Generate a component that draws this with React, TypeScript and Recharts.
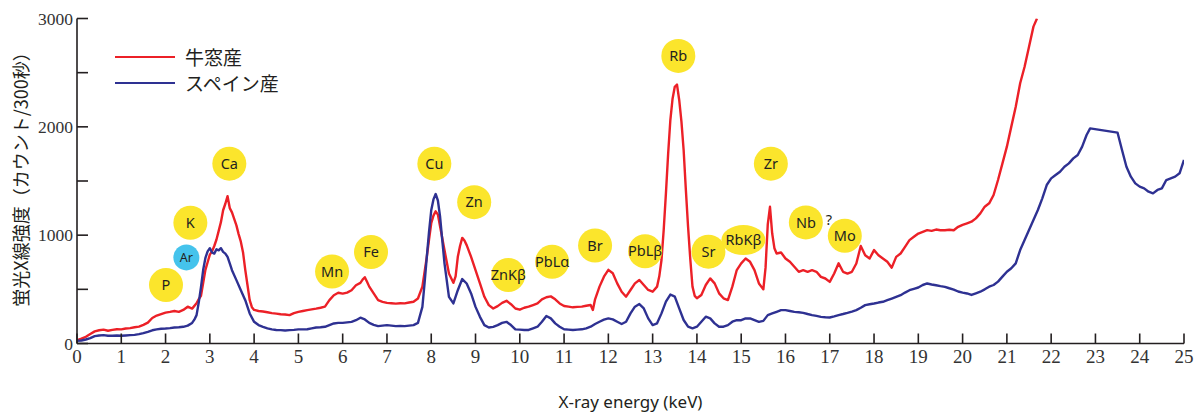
import React from "react";
import {
    LineChart,
    Line,
    XAxis,
    YAxis,
    ReferenceDot,
    Label,
    Legend,
} from "recharts";

// 牛窓産 (red) — energy in keV and counts per 300 s
const ushimadoKeV = [
    0.0, 0.1, 0.2, 0.3, 0.4, 0.5, 0.6, 0.7, 0.8, 0.9,
    1.0, 1.1, 1.2, 1.3, 1.4, 1.5, 1.6, 1.7, 1.8, 1.9,
    2.0, 2.1, 2.2, 2.3, 2.4, 2.5, 2.6, 2.7, 2.75, 2.8, 2.85, 2.9, 2.95,
    3.0, 3.05, 3.1, 3.15, 3.2, 3.25, 3.3, 3.35, 3.4, 3.45, 3.5, 3.55, 3.6, 3.65, 3.7, 3.75, 3.8, 3.85, 3.9, 3.95,
    4.0, 4.1, 4.2, 4.3, 4.4, 4.5, 4.6, 4.7, 4.8, 4.9,
    5.0, 5.1, 5.2, 5.3, 5.4, 5.5, 5.6, 5.7, 5.8, 5.9,
    6.0, 6.1, 6.2, 6.3, 6.4, 6.45, 6.5, 6.55, 6.6, 6.7, 6.8, 6.9,
    7.0, 7.1, 7.2, 7.3, 7.4, 7.5, 7.6, 7.7, 7.8, 7.9, 7.95,
    8.0, 8.05, 8.1, 8.15, 8.2, 8.3, 8.4, 8.5, 8.55, 8.6, 8.65, 8.7, 8.75, 8.8, 8.9,
    9.0, 9.1, 9.2, 9.3, 9.4, 9.5, 9.6, 9.7, 9.8, 9.9,
    10.0, 10.1, 10.2, 10.3, 10.4, 10.5, 10.6, 10.7, 10.8, 10.9,
    11.0, 11.1, 11.2, 11.3, 11.4, 11.5, 11.6, 11.65, 11.7, 11.8, 11.9,
    12.0, 12.1, 12.2, 12.3, 12.4, 12.5, 12.6, 12.7, 12.8, 12.9,
    13.0, 13.1, 13.15, 13.2, 13.25, 13.3, 13.35, 13.4, 13.45, 13.5, 13.55, 13.6, 13.65, 13.7, 13.75, 13.8, 13.85, 13.9, 13.95,
    14.0, 14.1, 14.2, 14.3, 14.4, 14.5, 14.6, 14.7, 14.8, 14.9,
    15.0, 15.1, 15.2, 15.3, 15.4, 15.5, 15.55, 15.6, 15.65, 15.7, 15.75, 15.8, 15.9,
    16.0, 16.1, 16.2, 16.3, 16.4, 16.5, 16.6, 16.7, 16.8, 16.9,
    17.0, 17.1, 17.2, 17.3, 17.4, 17.5, 17.6, 17.7, 17.8, 17.9,
    18.0, 18.1, 18.2, 18.3, 18.4, 18.5, 18.6, 18.7, 18.8, 18.9,
    19.0, 19.1, 19.2, 19.3, 19.4, 19.5, 19.6, 19.7, 19.8, 19.9,
    20.0, 20.1, 20.2, 20.3, 20.4, 20.5, 20.6, 20.7, 20.8, 20.9,
    21.0, 21.1, 21.2, 21.3, 21.4, 21.5, 21.6, 21.68,
];
const ushimadoCounts = [
    30, 45, 62, 88, 112, 122, 128, 118, 126, 132,
    130, 138, 142, 150, 156, 172, 192, 235, 258, 272,
    285, 292, 300, 292, 310, 340, 322, 372, 410, 440, 560, 680, 750,
    820, 850, 900, 960, 1040, 1120, 1230, 1290, 1360, 1250, 1210, 1150, 1090, 1010, 940, 840, 680, 540, 400, 335,
    310, 300, 295, 288, 280, 276, 270, 268, 262, 280,
    292, 300, 308, 315, 322, 330, 340, 400, 446, 468,
    460, 470, 492, 538, 560, 590, 612, 570, 525, 462, 400, 385,
    375, 372, 368, 372, 370, 378, 385, 415, 525, 800, 960,
    1110, 1180, 1220, 1190, 1080, 860, 646, 560, 620, 800, 900, 975, 950, 908, 800,
    677, 554, 431, 354, 323, 345, 375, 394, 363, 323,
    312, 330, 340, 355, 370, 408, 427, 435, 408, 370,
    346, 340, 334, 338, 340, 348, 355, 310, 408, 525, 617,
    680, 648, 555, 478, 432, 494, 555, 586, 540, 494,
    478, 525, 620, 771, 1050, 1386, 1750, 2063, 2260, 2370, 2390, 2248, 2050, 1786, 1420, 1078, 780, 525, 440,
    417, 448, 540, 601, 555, 463, 417, 401, 525, 678,
    740, 785, 754, 677, 554, 500, 700, 1100, 1262, 1015, 880, 831, 840,
    785, 754, 708, 662, 677, 662, 677, 662, 615, 600,
    569, 646, 740, 662, 646, 662, 738, 900, 815, 785,
    862, 815, 785, 754, 700, 800, 831, 892, 954, 985,
    1015, 1031, 1046, 1040, 1052, 1045, 1046, 1050, 1046, 1077,
    1095, 1109, 1124, 1155, 1201, 1263, 1294, 1371, 1509, 1663,
    1817, 2002, 2186, 2402, 2555, 2740, 2925, 3000,
];

// スペイン産 (blue)
const spainKeV = [
    0.0, 0.1, 0.2, 0.3, 0.4, 0.5, 0.6, 0.7, 0.8, 0.9,
    1.0, 1.1, 1.2, 1.3, 1.4, 1.5, 1.6, 1.7, 1.8, 1.9,
    2.0, 2.1, 2.2, 2.3, 2.4, 2.5, 2.6, 2.65, 2.7, 2.75, 2.8, 2.85, 2.9, 2.95,
    3.0, 3.05, 3.1, 3.15, 3.2, 3.25, 3.3, 3.35, 3.4, 3.45, 3.5, 3.6, 3.7, 3.8, 3.9,
    4.0, 4.1, 4.2, 4.3, 4.4, 4.5, 4.6, 4.7, 4.8, 4.9,
    5.0, 5.1, 5.2, 5.3, 5.4, 5.5, 5.6, 5.7, 5.8, 5.9,
    6.0, 6.1, 6.2, 6.3, 6.4, 6.5, 6.6, 6.7, 6.8, 6.9,
    7.0, 7.1, 7.2, 7.3, 7.4, 7.5, 7.6, 7.7, 7.8, 7.85, 7.9, 7.95,
    8.0, 8.05, 8.1, 8.15, 8.2, 8.25, 8.3, 8.4, 8.5, 8.6, 8.7, 8.8, 8.9,
    9.0, 9.1, 9.2, 9.3, 9.4, 9.5, 9.6, 9.7, 9.8, 9.9,
    10.0, 10.1, 10.2, 10.3, 10.4, 10.5, 10.6, 10.7, 10.8, 10.9,
    11.0, 11.1, 11.2, 11.3, 11.4, 11.5, 11.6, 11.7, 11.8, 11.9,
    12.0, 12.1, 12.2, 12.3, 12.4, 12.5, 12.6, 12.7, 12.8, 12.9,
    13.0, 13.1, 13.2, 13.3, 13.4, 13.5, 13.6, 13.7, 13.8, 13.9,
    14.0, 14.1, 14.2, 14.3, 14.4, 14.5, 14.6, 14.7, 14.8, 14.9,
    15.0, 15.1, 15.2, 15.3, 15.4, 15.5, 15.6, 15.7, 15.8, 15.9,
    16.0, 16.1, 16.2, 16.3, 16.4, 16.5, 16.6, 16.7, 16.8, 16.9,
    17.0, 17.1, 17.2, 17.3, 17.4, 17.5, 17.6, 17.7, 17.8, 17.9,
    18.0, 18.1, 18.2, 18.3, 18.4, 18.5, 18.6, 18.7, 18.8, 18.9,
    19.0, 19.1, 19.2, 19.3, 19.4, 19.5, 19.6, 19.7, 19.8, 19.9,
    20.0, 20.1, 20.2, 20.3, 20.4, 20.5, 20.6, 20.7, 20.8, 20.9,
    21.0, 21.1, 21.2, 21.3, 21.4, 21.5, 21.6, 21.7, 21.8, 21.9,
    22.0, 22.1, 22.2, 22.3, 22.4, 22.5, 22.6, 22.7, 22.8, 22.88,
    23.5, 23.6, 23.7, 23.8, 23.9,
    24.0, 24.1, 24.2, 24.3, 24.4, 24.5, 24.6, 24.7, 24.8, 24.9, 25.0,
];
const spainCounts = [
    25, 28, 37, 50, 68, 74, 77, 72, 71, 74,
    71, 74, 77, 80, 86, 96, 108, 122, 130, 136,
    138, 142, 148, 150, 154, 165, 190, 220, 262, 380, 520, 680, 790, 850,
    880, 840, 830, 870, 860, 880, 846, 830, 800, 740, 677, 585, 492, 400, 277,
    200, 170, 154, 140, 130, 125, 123, 120, 123, 126,
    130, 130, 132, 140, 148, 150, 154, 170, 185, 190,
    190, 195, 200, 215, 238, 222, 190, 172, 160, 165,
    170, 165, 160, 162, 160, 165, 170, 190, 338, 560, 800, 1030,
    1230, 1330, 1380, 1320, 1170, 950, 738, 431, 370, 492, 595, 554, 462,
    338, 246, 170, 148, 154, 170, 190, 200, 170, 130,
    128, 125, 125, 140, 155, 201, 254, 232, 186, 155,
    131, 128, 125, 128, 131, 140, 155, 180, 201, 220,
    232, 223, 201, 180, 201, 278, 340, 364, 324, 232,
    170, 186, 278, 386, 452, 432, 324, 217, 155, 140,
    155, 201, 247, 232, 186, 155, 155, 170, 201, 215,
    215, 231, 231, 215, 200, 209, 262, 277, 292, 308,
    308, 300, 292, 288, 283, 272, 262, 255, 246, 242,
    240, 250, 262, 272, 283, 295, 308, 330, 354, 362,
    369, 378, 385, 400, 415, 430, 446, 470, 492, 505,
    517, 540, 554, 545, 538, 530, 523, 510, 498, 480,
    470, 462, 448, 463, 478, 500, 524, 540, 571, 617,
    663, 694, 740, 863, 955, 1048, 1140, 1232, 1340, 1463,
    1524, 1555, 1586, 1632, 1663, 1709, 1740, 1817, 1925, 1986,
    1946, 1786, 1632, 1540, 1478,
    1448, 1432, 1401, 1386, 1417, 1432, 1509, 1524, 1540, 1571, 1694,
];

const seriesNames = ["牛窓産", "スペイン産"];
const energyTicks = [0, 1, 2, 3, 4, 5, 6, 7, 8, 9, 10, 11, 12, 13, 14, 15, 16, 17, 18, 19, 20, 21, 22, 23, 24, 25];
const countTicks = [0, 500, 1000, 1500, 2000, 2500, 3000];

// element labels: name, energy (keV), height (counts)
const elementNames = ["P", "Ar", "K", "Ca", "Mn", "Fe", "Cu", "Zn", "ZnKβ", "PbLα", "Br", "PbLβ", "Rb", "Sr", "RbKβ", "Zr", "Nb", "?", "Mo"];
const elementKeV = [2.01, 2.47, 2.56, 3.44, 5.76, 6.64, 8.07, 8.97, 9.74, 10.73, 11.70, 12.83, 13.58, 14.26, 15.05, 15.67, 16.46, 16.98, 17.34];
const elementCounts = [540, 795, 1115, 1660, 665, 845, 1660, 1305, 632, 755, 905, 852, 2655, 848, 955, 1660, 1118, 1140, 995];

const ushimadoData = ushimadoKeV.map((keV, i) => ({ keV, counts: ushimadoCounts[i] }));
const spainData = spainKeV.map((keV, i) => ({ keV, counts: spainCounts[i] }));

const INK = "#231F20";
const RED = "#EC2027";
const BLUE = "#2E3192";
const YELLOW = "#FBE52C";
const CYAN = "#45C3EC";
const seriesColors = [RED, BLUE];
const SERIF = "'Liberation Serif', 'Times New Roman', serif";

const CustomLegend = () => (
    <div style={{ fontFamily: "'Noto Sans CJK JP'", fontSize: 19, color: INK }}>
        {seriesNames.map((name, i) => (
            <div key={name} style={{ display: "flex", alignItems: "center", height: 26 }}>
                <svg width={60} height={4} style={{ marginRight: 10 }}>
                    <line x1={0} y1={2} x2={60} y2={2} stroke={seriesColors[i]} strokeWidth={2.2} />
                </svg>
                <span style={{ lineHeight: "26px" }}>{name}</span>
            </div>
        ))}
    </div>
);

const XTick = ({ x, y, payload }: any) => (
    <text x={x} y={y} dy="0.71em" textAnchor="middle" fill="#333" style={{ fontFamily: SERIF, fontSize: 19 }}>
        {payload.value}
    </text>
);

const YTick = ({ x, y, payload }: any) =>
    payload.value % 1000 === 0 ? (
        <text x={x} y={y} dy="0.355em" textAnchor="end" fill="#333" style={{ fontFamily: SERIF, fontSize: 17.5 }}>
            {payload.value}
        </text>
    ) : (
        <g />
    );

const YTitle = ({ viewBox }: any) => {
    const x = viewBox.x + 3;
    const y = viewBox.y + viewBox.height / 2 - 6;
    return (
        <text
            x={x}
            y={y}
            transform={`rotate(-90 ${x} ${y})`}
            textAnchor="middle"
            dominantBaseline="central"
            fill={INK}
            fontSize={18}
            fontFamily="'Noto Sans CJK JP'"
        >
            蛍光X線強度（カウント/300秒）
        </text>
    );
};

const XTitle = ({ viewBox }: any) => (
    <text
        x={viewBox.x + viewBox.width / 2}
        y={viewBox.y + 58}
        textAnchor="middle"
        dominantBaseline="central"
        fill={INK}
        fontSize={17}
        fontFamily="'Noto Sans'"
    >
        X-ray energy (keV)
    </text>
);

const RoundTag = (props: any) => {
    const { cx, cy, r, fill, wide } = props;
    if (wide) return <ellipse cx={cx} cy={cy} rx={22} ry={15} fill={fill} />;
    return <circle cx={cx} cy={cy} r={r} fill={fill} />;
};

const App: React.FC = () => {
    const axisStroke = { stroke: INK, strokeWidth: 1.6 };
    return (
        <div style={{ position: "absolute", left: 0, top: 0, width: 1202, height: 414, background: "#fff" }}>
            <LineChart width={1202} height={414} margin={{ top: 18.5, right: 18, bottom: 40.5, left: 17 }}>
                <XAxis
                    xAxisId="bottom"
                    type="number"
                    dataKey="keV"
                    domain={[0, 25]}
                    ticks={energyTicks}
                    interval={0}
                    height={30}
                    tickSize={-10}
                    tickMargin={16}
                    axisLine={axisStroke}
                    tickLine={axisStroke}
                    tick={(p: any) => <XTick {...p} />}
                    allowDataOverflow
                >
                    <Label content={XTitle} />
                </XAxis>
                <XAxis
                    xAxisId="top"
                    orientation="top"
                    type="number"
                    dataKey="keV"
                    domain={[0, 25]}
                    ticks={energyTicks}
                    interval={0}
                    height={0}
                    tickSize={-10}
                    tickFormatter={() => ""}
                    axisLine={axisStroke}
                    tickLine={axisStroke}
                    allowDataOverflow
                />
                <YAxis
                    yAxisId="left"
                    type="number"
                    domain={[0, 3000]}
                    ticks={countTicks}
                    interval={0}
                    width={60}
                    tickSize={-11}
                    tickMargin={15}
                    axisLine={axisStroke}
                    tickLine={axisStroke}
                    tick={(p: any) => <YTick {...p} />}
                    allowDataOverflow
                >
                    <Label content={YTitle} />
                </YAxis>
                <YAxis
                    yAxisId="right"
                    orientation="right"
                    type="number"
                    domain={[0, 3000]}
                    ticks={countTicks}
                    interval={0}
                    width={0}
                    tickSize={-6}
                    tickFormatter={() => ""}
                    axisLine={axisStroke}
                    tickLine={axisStroke}
                    allowDataOverflow
                />
                <Legend
                    layout="vertical"
                    align="center"
                    verticalAlign="middle"
                    content={<CustomLegend />}
                    wrapperStyle={{ left: 115, top: 44, width: "auto" }}
                />
                <Line
                    name={seriesNames[0]}
                    data={ushimadoData}
                    xAxisId="bottom"
                    yAxisId="left"
                    dataKey="counts"
                    type="linear"
                    stroke={RED}
                    strokeWidth={2.4}
                    strokeLinejoin="round"
                    dot={false}
                    isAnimationActive={false}
                />
                <Line
                    name={seriesNames[1]}
                    data={spainData}
                    xAxisId="bottom"
                    yAxisId="left"
                    dataKey="counts"
                    type="linear"
                    stroke={BLUE}
                    strokeWidth={2.4}
                    strokeLinejoin="round"
                    dot={false}
                    isAnimationActive={false}
                />
                {elementNames.map((name, i) => {
                    const isQuery = name === "?";
                    const isAr = name === "Ar";
                    return (
                        <ReferenceDot
                            key={name + i}
                            xAxisId="bottom"
                            yAxisId="left"
                            x={elementKeV[i]}
                            y={elementCounts[i]}
                            r={isAr ? 13 : isQuery ? 6 : 17}
                            fill={isQuery ? "none" : isAr ? CYAN : YELLOW}
                            stroke="none"
                            shape={(p: any) => <RoundTag {...p} wide={name === "RbKβ"} />}
                        >
                            <Label
                                value={name}
                                position="center"
                                fill={INK}
                                fontSize={isAr ? 12.5 : 14.5}
                                fontFamily="'Noto Sans'"
                            />
                        </ReferenceDot>
                    );
                })}
            </LineChart>
        </div>
    );
};

export default App;
